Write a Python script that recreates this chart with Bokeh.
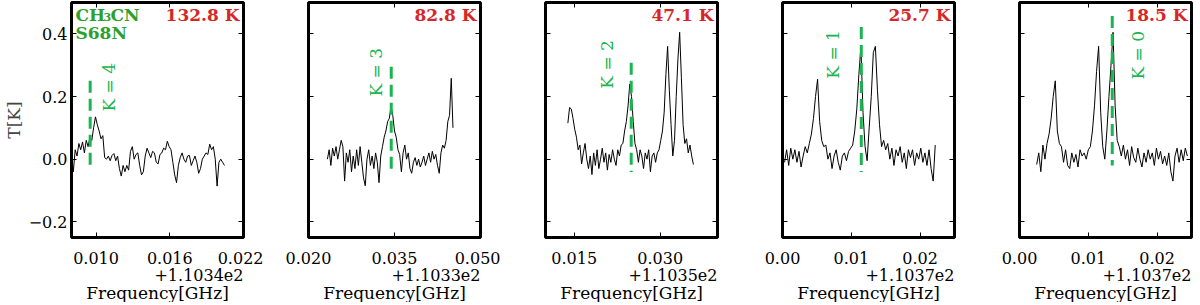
import numpy as np
from bokeh.plotting import figure
from bokeh.layouts import row
from bokeh.models import (FixedTicker, CustomJSTickFormatter, LinearAxis, Title,
                          Label, ColumnDataSource)
from bokeh.core.properties import value
from bokeh.embed import file_html
from bokeh.resources import INLINE

# ---------------- data ----------------
offset_texts = ["+1.1034e2", "+1.1033e2", "+1.1035e2", "+1.1037e2", "+1.1037e2"]
x_ranges = [(0.008, 0.022), (0.020, 0.050), (0.010, 0.040), (0.000, 0.025), (0.000, 0.025)]
x_ticks = [[0.010, 0.016, 0.022], [0.020, 0.035, 0.050], [0.015, 0.030],
           [0.00, 0.01, 0.02], [0.00, 0.01, 0.02]]
x_tick_digits = [3, 3, 3, 2, 2]
y_ticks = [-0.2, 0.0, 0.2, 0.4]
y_range = (-0.25, 0.5)
temps = ["132.8 K", "82.8 K", "47.1 K", "25.7 K", "18.5 K"]
k_labels = ["K = 4", "K = 3", "K = 2", "K = 1", "K = 0"]
k_line_freq = [0.00952, 0.03443, 0.02495, 0.01145, 0.01348]
k_line_top = [0.25, 0.295, 0.308, 0.422, 0.457]
k_line_bottom = [-0.03, -0.038, -0.041, -0.041, -0.02]
k_text_freq = [0.01107, 0.0318, 0.02078, 0.0074, 0.01725]
k_text_base = [0.152, 0.2, 0.225, 0.257, 0.254]
chan_start = [0.0080, 0.0233, 0.0139, 0.0003, 0.0025]
chan_width = [0.00015, 0.0003, 0.0003, 0.0003, 0.0003]

spec1 = [0.02, -0.04, 0.03, 0.01, 0.05, 0.03, 0.055, 0.02, 0.06, 0.04,
         0.07, 0.06, 0.10, 0.135, 0.11, 0.09, 0.065, 0.075, 0.005, 0.0,
         0.01, -0.005, 0.012, 0.018, -0.005, 0.01, -0.03, -0.054, -0.02, -0.04,
         -0.02, -0.035, 0.025, 0.04, 0.0, 0.015, 0.02, -0.02, -0.05, -0.04,
         0.01, 0.035, 0.02, 0.005, 0.025, 0.02, -0.01, -0.015, 0.015, 0.02,
         0.035, 0.03, 0.057, 0.04, 0.03, -0.01, -0.05, -0.075, -0.02, 0.005,
         0.02, 0.0, -0.01, 0.01, 0.012, -0.02, -0.005, 0.01, -0.01, -0.045,
         -0.03, 0.0, 0.01, 0.02, 0.015, 0.048, 0.03, 0.04, 0.0, -0.086,
         -0.01, 0.0, -0.01, -0.02]
spec2 = [0.0, 0.03, -0.02, 0.035, 0.01, 0.04, 0.0, 0.03, 0.06, 0.04,
         -0.07, 0.02, -0.01, 0.03, -0.04, 0.01, -0.03, 0.03, -0.02, 0.04,
         -0.01, -0.06, -0.085, 0.0, 0.03, -0.02, 0.01, -0.03, 0.02, -0.01,
         -0.075, 0.01, 0.04, 0.07, 0.09, 0.12, 0.13, 0.17, 0.14, 0.09,
         0.07, 0.03, 0.015, -0.04, 0.02, 0.045, 0.0, 0.02, -0.03, -0.045,
         -0.01, 0.005, -0.02, 0.0, -0.025, -0.01, 0.01, -0.02, 0.0, 0.02,
         -0.01, 0.025, 0.0, 0.015, -0.02, -0.045, 0.02, 0.045, 0.035, 0.06,
         0.12, 0.14, 0.258, 0.10]
spec3 = [0.115, 0.165, 0.16, 0.13, 0.095, 0.07, 0.03, 0.045, -0.015, 0.02,
         0.05, 0.0, -0.03, 0.01, -0.049, 0.02, -0.02, 0.03, -0.03, 0.0,
         0.035, -0.01, 0.02, -0.035, 0.015, -0.01, 0.03, 0.0, -0.02, 0.03,
         0.01, 0.045, 0.05, 0.09, 0.12, 0.17, 0.24, 0.20, 0.12, 0.05,
         0.03, -0.01, 0.03, 0.01, -0.03, 0.02, 0.0, 0.03, -0.04, 0.01,
         0.02, -0.01, 0.02, 0.03, 0.06, 0.09, 0.15, 0.27, 0.36, 0.22,
         0.11, 0.01, 0.06, 0.20, 0.32, 0.405, 0.26, 0.11, 0.05, 0.065,
         0.02, 0.045, 0.01, -0.017]
spec4 = [-0.01, 0.03, -0.02, 0.035, 0.0, 0.03, -0.01, 0.025, -0.025, 0.01,
         0.04, 0.02, 0.05, 0.08, 0.13, 0.20, 0.255, 0.12, 0.06, 0.04,
         0.045, 0.0, 0.02, -0.03, 0.01, 0.03, -0.01, -0.035, 0.01, 0.02,
         -0.005, 0.025, 0.035, 0.045, 0.09, 0.16, 0.27, 0.36, 0.15, 0.04,
         -0.005, 0.10, 0.20, 0.34, 0.36, 0.22, 0.11, 0.04, 0.06, 0.03,
         0.05, 0.0, 0.035, -0.02, 0.03, 0.01, 0.04, -0.01, 0.02, -0.03,
         0.03, 0.005, 0.03, -0.02, 0.02, 0.0, 0.035, -0.01, 0.02, -0.02,
         0.03, -0.03, -0.07, 0.045]
spec5 = [-0.017, 0.02, -0.04, 0.045, 0.0, 0.05, 0.08, 0.13, 0.20, 0.25,
         0.09, 0.05, 0.04, -0.01, 0.03, -0.02, -0.03, 0.02, -0.01, 0.015,
         -0.025, 0.03, 0.01, 0.02, 0.0, 0.03, 0.04, 0.09, 0.17, 0.28,
         0.36, 0.15, 0.04, 0.0, 0.09, 0.20, 0.30, 0.405, 0.17, 0.06,
         0.04, 0.01, 0.045, 0.0, 0.03, -0.02, 0.04, 0.005, -0.01, 0.035,
         0.0, -0.025, 0.02, -0.01, 0.03, 0.0, 0.02, -0.02, 0.035, 0.0,
         0.025, -0.015, 0.01, -0.02, 0.02, -0.04, -0.07, 0.01, 0.035, -0.01,
         0.03, -0.005, 0.035, 0.01]
spectra = [spec1, spec2, spec3, spec4, spec5]

# ---------------- style ----------------
FONT = "DejaVu Serif"
TICK_FS = "16px"
TITLE_FS = "17px"
OFFSET_FS = "16px"
K_FS = "17px"
RED = "#d62728"
GREEN_T = "#2ca02c"
GREEN_K = "#19b550"
FRAME_W = 172
FRAME_H = 235
border_left = [63, 45, 45, 45, 45]
border_right = [20, 20, 20, 20, 2]


def style_axis(ax, labels=True):
    ax.axis_line_color = None
    ax.major_tick_in = 5
    ax.major_tick_out = 0
    ax.minor_tick_in = 0
    ax.minor_tick_out = 0
    ax.major_tick_line_color = "black"
    ax.major_tick_line_width = 1
    ax.major_label_text_font = FONT
    ax.major_label_text_font_size = TICK_FS
    ax.major_label_text_color = "black"
    if not labels:
        ax.formatter = CustomJSTickFormatter(code="return '';")
        ax.major_label_standoff = 0


figs = []
for i in range(5):
    lo, hi = x_ranges[i]
    p = figure(frame_width=FRAME_W, frame_height=FRAME_H, x_range=(lo, hi), y_range=y_range,
               output_backend="svg", toolbar_location=None,
               min_border_left=border_left[i], min_border_right=border_right[i],
               min_border_top=2, min_border_bottom=0)
    p.grid.visible = False
    p.outline_line_color = "black"
    p.outline_line_width = 3
    p.outline_line_alpha = 1.0

    xt = FixedTicker(ticks=x_ticks[i], minor_ticks=[])
    yt = FixedTicker(ticks=y_ticks, minor_ticks=[])

    xa = p.xaxis[0]
    xa.ticker = xt
    style_axis(xa)
    xa.formatter = CustomJSTickFormatter(code="return tick.toFixed(%d);" % x_tick_digits[i])
    xa.major_label_standoff = 14

    ya = p.yaxis[0]
    ya.ticker = yt
    if i == 0:
        style_axis(ya)
        ya.formatter = CustomJSTickFormatter(
            code="return tick < 0 ? '\\u2212' + (-tick).toFixed(1) : tick.toFixed(1);")
        ya.major_label_standoff = 4
        ya.axis_label = "T[K]"
        ya.axis_label_text_font = FONT
        ya.axis_label_text_font_size = TITLE_FS
        ya.axis_label_text_font_style = "normal"
        ya.axis_label_standoff = 2
    else:
        style_axis(ya, labels=False)

    top_ax = LinearAxis(ticker=FixedTicker(ticks=x_ticks[i], minor_ticks=[]))
    style_axis(top_ax, labels=False)
    p.add_layout(top_ax, "above")
    right_ax = LinearAxis(ticker=FixedTicker(ticks=y_ticks, minor_ticks=[]))
    style_axis(right_ax, labels=False)
    p.add_layout(right_ax, "right")

    p.add_layout(Title(text=offset_texts[i], align="right", text_font=FONT,
                       text_font_size=OFFSET_FS, text_font_style="normal",
                       text_color="black", standoff=0, offset=0), "below")
    p.add_layout(Title(text="Frequency[GHz]", align="center", text_font=FONT,
                       text_font_size=TITLE_FS, text_font_style="normal",
                       text_color="black", standoff=0), "below")

    # spectrum
    n = len(spectra[i])
    freq = [chan_start[i] + chan_width[i] * k for k in range(n)]
    src = ColumnDataSource(dict(f=freq, t=spectra[i]))
    p.line("f", "t", source=src, line_color="black", line_width=1.0)

    # K line and label
    p.segment(x0=[k_line_freq[i]], y0=[k_line_top[i]], x1=[k_line_freq[i]], y1=[k_line_bottom[i]],
              line_color=GREEN_K, line_width=3, line_dash="12 6")
    p.text(x=[k_text_freq[i]], y=[k_text_base[i]], text=[k_labels[i]], angle=np.pi / 2,
           text_align="left", text_baseline="middle", text_color=GREEN_K,
           text_font=value(FONT), text_font_size=value(K_FS))

    # temperature label
    p.add_layout(Label(x=hi, y=0.493, x_offset=-4, text=temps[i], text_align="right",
                       text_baseline="top", text_color=RED, text_font=FONT,
                       text_font_size="17px", text_font_style="bold"))
    if i == 0:
        p.add_layout(Label(x=lo, y=0.493, x_offset=4, text="CH", text_align="left",
                           text_baseline="top", text_color=GREEN_T, text_font=FONT,
                           text_font_size="17px", text_font_style="bold"))
        p.add_layout(Label(x=lo, y=0.468, x_offset=32, text="3", text_align="left",
                           text_baseline="top", text_color=GREEN_T, text_font=FONT,
                           text_font_size="11px", text_font_style="bold"))
        p.add_layout(Label(x=lo, y=0.493, x_offset=39, text="CN", text_align="left",
                           text_baseline="top", text_color=GREEN_T, text_font=FONT,
                           text_font_size="17px", text_font_style="bold"))
        p.add_layout(Label(x=lo, y=0.436, x_offset=4, text="S68N", text_align="left",
                           text_baseline="top", text_color=GREEN_T, text_font=FONT,
                           text_font_size="17px", text_font_style="bold"))
    figs.append(p)

layout = row(*figs, spacing=0)
open("out.html", "w").write(file_html(layout, INLINE))
